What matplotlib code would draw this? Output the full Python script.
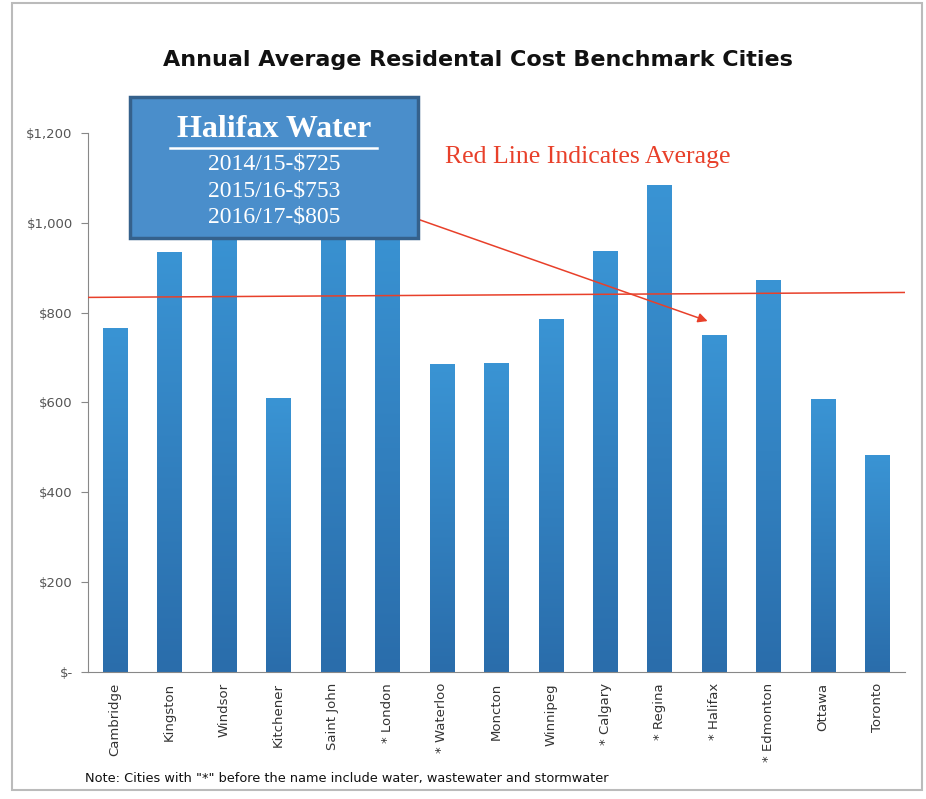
import matplotlib.pyplot as plt
import numpy as np
from matplotlib.patches import Rectangle, FancyArrowPatch
from matplotlib.colors import LinearSegmentedColormap
from matplotlib.ticker import FuncFormatter

# cities and annual average residential cost ($)
cities = ['Cambridge', 'Kingston', 'Windsor', 'Kitchener', 'Saint John', '* London',
          '* Waterloo', 'Moncton', 'Winnipeg', '* Calgary', '* Regina', '* Halifax',
          '* Edmonton', 'Ottawa', 'Toronto']
costs = [765, 935, 1000, 610, 1040, 1020, 685, 688, 785, 937, 1085, 750, 873, 607, 482]

# hand drawn average line (left end, right end)
avg_line = [834, 845]

box_title = 'Halifax Water'
box_lines = ['2014/15-$725', '2015/16-$753', '2016/17-$805']

fig = plt.figure(figsize=(9.26, 7.99), dpi=100)
ax = fig.add_axes([0.095, 0.159, 0.882, 0.6745])

x = np.arange(len(cities))
bars = ax.bar(x, costs, width=0.45, color='#3388c8', zorder=2)

# vertical gradient in each bar, lighter at top
grad = LinearSegmentedColormap.from_list('g', ['#2a6dab', '#3a94d4'])
for b in bars:
    x0, w, h = b.get_x(), b.get_width(), b.get_height()
    im = ax.imshow(np.linspace(0, 1, 256).reshape(-1, 1), cmap=grad, origin='lower',
                   extent=[x0, x0 + w, 0, h], aspect='auto', zorder=2.1)
    im.set_clip_path(b)

ax.plot([-0.5, len(cities) - 0.5], avg_line, color='#e8402a', lw=1.1, zorder=3)

ax.set_xlim(-0.5, len(cities) - 0.5)
ax.set_ylim(0, 1200)
ax.set_yticks(range(0, 1201, 200))
ax.yaxis.set_major_formatter(FuncFormatter(lambda v, p: '$-' if v == 0 else f'${v:,.0f}'))
ax.set_xticks(x)
ax.set_xticklabels(cities, rotation=90, fontsize=9.5, color='#333333')
ax.tick_params(axis='x', length=0, pad=8)
ax.tick_params(axis='y', direction='out', length=5, color='#888888',
               labelsize=9.5, labelcolor='#555555', pad=6)
for s in ['top', 'right']:
    ax.spines[s].set_visible(False)
for s in ['left', 'bottom']:
    ax.spines[s].set_color('#888888')

fig.text(0.516, 0.925, 'Annual Average Residental Cost Benchmark Cities',
         ha='center', va='center', fontsize=16, weight='bold', color='#111111')

# info box
fig.patches.append(Rectangle((0.140, 0.702), 0.311, 0.1765, transform=fig.transFigure,
                             facecolor='#4a8ecb', edgecolor='#35618c', lw=2.5, zorder=5))
fig.text(0.296, 0.838, box_title, ha='center', va='center', fontsize=23,
         family='Liberation Serif', weight='bold', color='white', zorder=6)
fig.lines.append(plt.Line2D([0.184, 0.407], [0.815, 0.815], transform=fig.transFigure,
                            color='white', lw=1.8, zorder=6))
for i, line in enumerate(box_lines):
    fig.text(0.296, 0.795 - i * 0.0335, line, ha='center', va='center', fontsize=17,
             family='Liberation Serif', color='white', zorder=6)

fig.text(0.481, 0.8035, 'Red Line Indicates Average', ha='left', va='center',
         fontsize=18.5, family='Liberation Serif', color='#e8402a')

fig.patches.append(FancyArrowPatch((0.448, 0.727), (0.767, 0.597), transform=fig.transFigure,
                                   arrowstyle='-|>', mutation_scale=14, color='#e8402a',
                                   lw=1.1, zorder=4))

fig.text(0.092, 0.026, 'Note: Cities with "*" before the name include water, wastewater and stormwater',
         ha='left', va='center', fontsize=9.3, color='#111111')

# outer frame
fig.patches.append(Rectangle((0.013, 0.011), 0.983, 0.985, transform=fig.transFigure,
                             fill=False, edgecolor='#bbbbbb', lw=1.5))

fig.savefig('out.png')
